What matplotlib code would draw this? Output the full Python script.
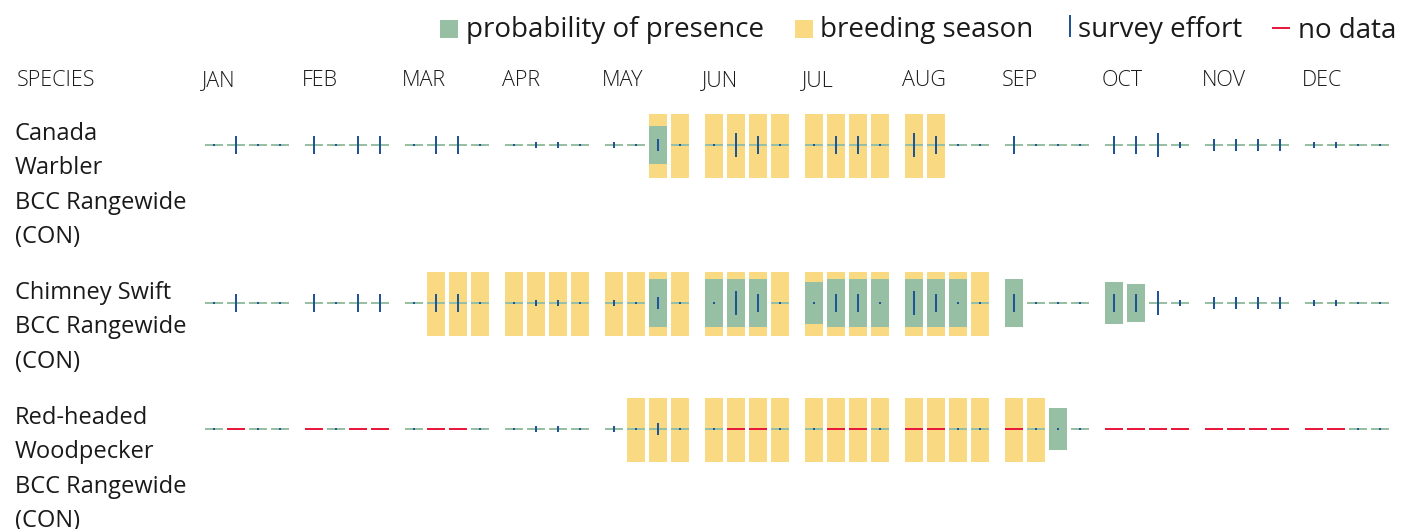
import matplotlib.pyplot as plt

plt.rcParams['font.family'] = ['Open Sans', 'DejaVu Sans']

months = ["JAN", "FEB", "MAR", "APR", "MAY", "JUN",
          "JUL", "AUG", "SEP", "OCT", "NOV", "DEC"]

species = [
    ["Canada", "Warbler", "BCC Rangewide", "(CON)"],
    ["Chimney Swift", "BCC Rangewide", "(CON)"],
    ["Red-headed", "Woodpecker", "BCC Rangewide", "(CON)"],
]

# survey effort per week (0..1), same for all species
effort = [0, .75, 0, 0,  .75, 0, .75, .75,  0, .75, .75, 0,  0, .25, .25, 0,
          .25, 0, .5, 0,  0, 1, .75, 0,  0, .75, .75, 0,  1, .75, 0, 0,
          .75, 0, 0, 0,  .75, .75, 1, .25,  .5, .5, .5, .5,  .25, .25, 0, 0]

breeding_canada = [0, 0, 0, 0,  0, 0, 0, 0,  0, 0, 0, 0,  0, 0, 0, 0,
                   0, 0, 1, 1,  1, 1, 1, 1,  1, 1, 1, 1,  1, 1, 0, 0,
                   0, 0, 0, 0,  0, 0, 0, 0,  0, 0, 0, 0,  0, 0, 0, 0]
breeding_swift = [0, 0, 0, 0,  0, 0, 0, 0,  0, 1, 1, 1,  1, 1, 1, 1,
                  1, 1, 1, 1,  1, 1, 1, 1,  1, 1, 1, 1,  1, 1, 1, 1,
                  0, 0, 0, 0,  0, 0, 0, 0,  0, 0, 0, 0,  0, 0, 0, 0]
breeding_woodpecker = [0, 0, 0, 0,  0, 0, 0, 0,  0, 0, 0, 0,  0, 0, 0, 0,
                       0, 1, 1, 1,  1, 1, 1, 1,  1, 1, 1, 1,  1, 1, 1, 1,
                       1, 1, 0, 0,  0, 0, 0, 0,  0, 0, 0, 0,  0, 0, 0, 0]

prob_canada = [0, 0, 0, 0,  0, 0, 0, 0,  0, 0, 0, 0,  0, 0, 0, 0,
               0, 0, .6, 0,  0, 0, 0, 0,  0, 0, 0, 0,  0, 0, 0, 0,
               0, 0, 0, 0,  0, 0, 0, 0,  0, 0, 0, 0,  0, 0, 0, 0]
prob_swift = [0, 0, 0, 0,  0, 0, 0, 0,  0, 0, 0, 0,  0, 0, 0, 0,
              0, 0, .75, 0,  .75, .75, .75, 0,  .65, .75, .75, .75,  .75, .75, .75, 0,
              .75, 0, 0, 0,  .65, .6, 0, 0,  0, 0, 0, 0,  0, 0, 0, 0]
prob_woodpecker = [0, 0, 0, 0,  0, 0, 0, 0,  0, 0, 0, 0,  0, 0, 0, 0,
                   0, 0, 0, 0,  0, 0, 0, 0,  0, 0, 0, 0,  0, 0, 0, 0,
                   0, 0, .65, 0,  0, 0, 0, 0,  0, 0, 0, 0,  0, 0, 0, 0]

nodata_canada = [0] * 48
nodata_swift = [0] * 48
nodata_woodpecker = [0, 1, 0, 0,  1, 0, 1, 1,  0, 1, 1, 0,  0, 0, 0, 0,
                     0, 0, 0, 0,  0, 1, 1, 0,  0, 1, 1, 0,  1, 1, 0, 0,
                     1, 0, 0, 0,  1, 1, 1, 1,  1, 1, 1, 1,  1, 1, 0, 0]

breeding = [breeding_canada, breeding_swift, breeding_woodpecker]
prob = [prob_canada, prob_swift, prob_woodpecker]
nodata = [nodata_canada, nodata_swift, nodata_woodpecker]

GREEN = "#96bfa3"
YELLOW = "#fad983"
BLUE = "#1f5496"
RED = "#e8193c"
TEXT = "#1a1a1a"

fig = plt.figure(figsize=(14.13, 5.29), dpi=100)
ax = fig.add_axes([0, 0, 1, 1])
ax.set_xlim(0, 1413)
ax.set_ylim(529, 0)
ax.axis("off")

# week positions (pixel layout)
xs = [205 + m * 100 + w * 22 for m in range(12) for w in range(4)]
row_y = [144.7, 302.7, 428.7]
label_base = [140, 299, 424]

# header
ax.text(17, 86.5, "SPECIES", fontsize=15.5, color=TEXT, fontweight="light")
for m, name in enumerate(months):
    ax.text(202 + m * 100, 86.5, name, fontsize=15.5, color=TEXT, fontweight="light")

for r in range(3):
    c = row_y[r]
    for i, line in enumerate(species[r]):
        ax.text(15, label_base[r] + i * 34.4, line, fontsize=17, color=TEXT)

    bx = [x for x, b in zip(xs, breeding[r]) if b]
    ax.bar(bx, 64, bottom=c - 30.7, width=18, align="edge", color=YELLOW, lw=0)

    px = [x for x, p in zip(xs, prob[r]) if p > 0]
    ph = [p * 64 for p in prob[r] if p > 0]
    ax.bar(px, ph, bottom=[c - h / 2 for h in ph], width=18, align="edge",
           color=GREEN, lw=0)

    gx = [x for x, n in zip(xs, nodata[r]) if not n]
    rx = [x for x, n in zip(xs, nodata[r]) if n]
    ax.bar(gx, 2, bottom=c - 1, width=18, align="edge", color=GREEN, lw=0)
    ax.bar(rx, 2, bottom=c - 1, width=18, align="edge", color=RED, lw=0)

    ex = [x + 8 for x, n in zip(xs, nodata[r]) if not n]
    eh = [max(2, e * 24) for e, n in zip(effort, nodata[r]) if not n]
    ax.bar(ex, eh, bottom=[c - h / 2 for h in eh], width=2, align="edge",
           color=BLUE, lw=0)

# legend
ax.bar(440, 18, bottom=20, width=18, align="edge", color=GREEN, lw=0)
ax.text(466, 37.5, "probability of presence", fontsize=20, color=TEXT)
ax.bar(795, 18, bottom=20, width=18, align="edge", color=YELLOW, lw=0)
ax.text(820, 37.5, "breeding season", fontsize=20, color=TEXT)
ax.bar(1069, 22, bottom=15, width=2, align="edge", color=BLUE, lw=0)
ax.text(1078, 37.5, "survey effort", fontsize=20, color=TEXT)
ax.bar(1272, 2, bottom=27, width=18, align="edge", color=RED, lw=0)
ax.text(1298, 37.5, "no data", fontsize=20, color=TEXT)

fig.savefig("out.png", dpi=100)
